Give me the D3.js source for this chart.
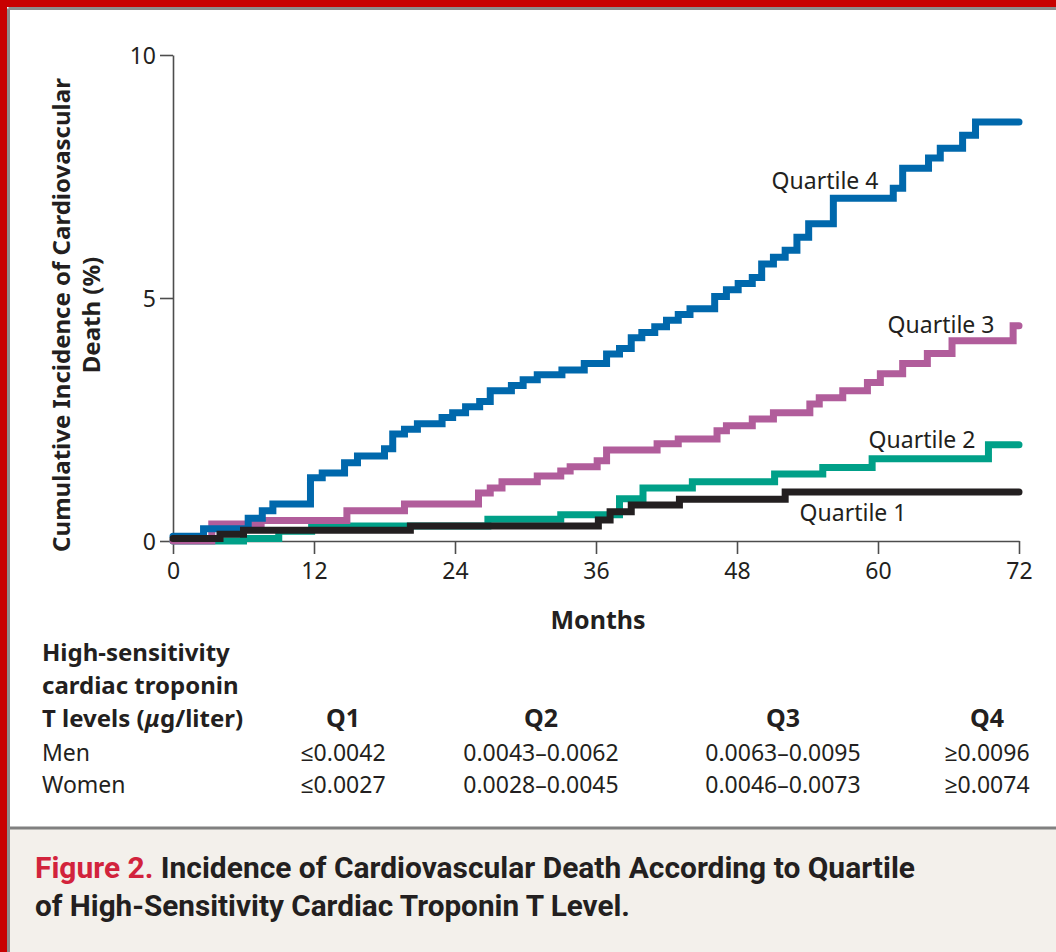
<!DOCTYPE html>
<html>
<head>
<meta charset="utf-8">
<script src="https://cdn.jsdelivr.net/npm/d3@7"></script>
<style>
body { margin: 0; background: #fff; }
svg text { font-family: "Noto Sans", "Open Sans", sans-serif; fill: #231f20; }
</style>
</head>
<body>
<svg id="chart"></svg>
<script>
// data: [month, cumulative incidence %]
var q1 = [[0,0.05],[4,0.14],[6,0.22],[20.2,0.31],[36.2,0.43],[37.2,0.6],[39,0.74],[43.1,0.86],[52.1,1.01],[72,1.01]];
var q2 = [[0,0],[6,0.05],[9,0.2],[11.8,0.31],[26.8,0.45],[33,0.54],[38,0.87],[40,1.09],[44.2,1.22],[51.2,1.38],[55.3,1.51],[59.5,1.69],[69.4,1.98],[72,1.98]];
var q3 = [[0,0],[3.3,0.35],[7.5,0.42],[14.8,0.62],[19.7,0.76],[26,0.99],[27,1.09],[28,1.22],[31,1.34],[33,1.44],[33.8,1.53],[36.1,1.65],[36.9,1.87],[41.2,2.0],[43,2.1],[46.3,2.27],[47.1,2.37],[49.3,2.51],[51.1,2.64],[54.2,2.82],[55,2.95],[57,3.09],[59.1,3.26],[60.2,3.44],[62.1,3.65],[64.2,3.86],[66.3,4.12],[71.5,4.43],[72,4.43]];
var q4 = [[0,0.1],[2.6,0.25],[6.4,0.47],[7.6,0.62],[8.5,0.76],[11.7,1.3],[12.7,1.4],[14.6,1.61],[15.7,1.75],[18,1.9],[18.7,2.2],[19.7,2.3],[20.8,2.41],[22.9,2.54],[23.8,2.64],[24.9,2.76],[26.1,2.87],[27,3.09],[28.8,3.2],[29.8,3.32],[31,3.42],[33.1,3.52],[35,3.65],[36.9,3.85],[38,3.96],[39,4.18],[39.9,4.29],[41,4.41],[42,4.54],[43,4.66],[44,4.78],[46.1,5.03],[47.1,5.17],[48.1,5.3],[49.3,5.42],[50.1,5.7],[51.1,5.84],[52.1,5.98],[53.1,6.25],[54.1,6.53],[56.2,7.05],[61.3,7.26],[62.1,7.67],[64.3,7.88],[65.3,8.08],[67.2,8.35],[68.3,8.62],[72,8.62]];

var seriesNames = ["Quartile 1","Quartile 2","Quartile 3","Quartile 4"];
var seriesColors = ["#231f20","#00a088","#b15d9b","#0068ac"];
var xTicks = [0,12,24,36,48,60,72];
var yTicks = [0,5,10];

var tableHead = ["Q1","Q2","Q3","Q4"];
var menRow = ["\u22640.0042","0.0043\u20130.0062","0.0063\u20130.0095","\u22650.0096"];
var womenRow = ["\u22640.0027","0.0028\u20130.0045","0.0046\u20130.0073","\u22650.0074"];

var W = 1056, H = 952;
var svg = d3.select("#chart").attr("width", W).attr("height", H);

svg.append("rect").attr("width", W).attr("height", H).attr("fill", "#fff");

// caption panel
svg.append("rect").attr("x", 0).attr("y", 829).attr("width", W).attr("height", H - 829).attr("fill", "#f3f0eb");
svg.append("line").attr("x1", 0).attr("x2", W).attr("y1", 828).attr("y2", 828)
  .attr("stroke", "#808080").attr("stroke-width", 3);

// frame: red band + grey inner rule
svg.append("rect").attr("x", 0).attr("y", 0).attr("width", W).attr("height", 7).attr("fill", "#c80000");
svg.append("rect").attr("x", 0).attr("y", 0).attr("width", 7).attr("height", H).attr("fill", "#c80000");
svg.append("line").attr("x1", 8.5).attr("x2", W).attr("y1", 8.5).attr("y2", 8.5).attr("stroke", "#8c8c8c").attr("stroke-width", 3);
svg.append("line").attr("x1", 8.5).attr("x2", 8.5).attr("y1", 8.5).attr("y2", H).attr("stroke", "#8c8c8c").attr("stroke-width", 3);

var x = d3.scaleLinear().domain([0, 72]).range([173, 1019]);
var y = d3.scaleLinear().domain([0, 10]).range([541, 55]);

var xAxis = d3.axisBottom(x).tickValues(xTicks).tickSize(13).tickSizeOuter(0).tickPadding(9);
var yAxis = d3.axisLeft(y).tickValues(yTicks).tickSize(13).tickSizeOuter(0).tickPadding(4);

var gx = svg.append("g").attr("transform", "translate(0," + y(0) + ")").call(xAxis);
var gy = svg.append("g").attr("transform", "translate(" + x(0) + ",0)").call(yAxis);

[gx, gy].forEach(function(g){
  g.select(".domain").attr("stroke", "#4d4d4d").attr("stroke-width", 1.6);
  g.selectAll(".tick line").attr("stroke", "#4d4d4d").attr("stroke-width", 1.6);
  g.selectAll(".tick text").style("font-family", "'Noto Sans', sans-serif").style("font-size", "23px").attr("fill", "#231f20");
});
gy.selectAll(".tick text").attr("dy", "0.35em");

// axis titles
svg.append("text").attr("x", 598).attr("y", 629).attr("text-anchor", "middle")
  .style("font-size", "25px").style("font-weight", "bold").text("Months");

var yl = svg.append("text").attr("transform", "translate(70,315) rotate(-90)").attr("text-anchor", "middle")
  .style("font-size", "24px").style("font-weight", "bold");
yl.append("tspan").attr("x", 0).attr("y", 0).text("Cumulative Incidence of Cardiovascular");
yl.append("tspan").attr("x", 0).attr("y", 30).text("Death (%)");

// step curves
var line = d3.line().x(function(d){ return x(d[0]); }).y(function(d){ return y(d[1]); }).curve(d3.curveStepAfter);
var drawOrder = [1, 2, 3, 0];
var allSeries = [q1, q2, q3, q4];
drawOrder.forEach(function(i){
  svg.append("path").datum(allSeries[i]).attr("d", line)
    .attr("fill", "none").attr("stroke", seriesColors[i]).attr("stroke-width", 7)
    .attr("stroke-linejoin", "miter").attr("stroke-linecap", "round");
});

// curve labels
var labelPos = [[853, 521], [922, 448], [941, 333], [825, 189]];
seriesNames.forEach(function(n, i){
  svg.append("text").attr("x", labelPos[i][0]).attr("y", labelPos[i][1]).attr("text-anchor", "middle")
    .style("font-size", "23px").text(n);
});

// table below the chart
var tl = svg.append("text").style("font-size", "24px").style("font-weight", "bold");
tl.append("tspan").attr("x", 42).attr("y", 661).text("High-sensitivity");
tl.append("tspan").attr("x", 42).attr("y", 694).text("cardiac troponin");
var t3 = tl.append("tspan").attr("x", 42).attr("y", 727);
t3.append("tspan").text("T levels (");
t3.append("tspan").style("font-style", "italic").text("\u03bc");
t3.append("tspan").text("g/liter)");

var colX = [343, 541, 783, 987];
tableHead.forEach(function(h, i){
  svg.append("text").attr("x", colX[i]).attr("y", 727).attr("text-anchor", "middle")
    .style("font-size", "25px").style("font-weight", "bold").text(h);
});
svg.append("text").attr("x", 42).attr("y", 761).style("font-size", "23px").text("Men");
svg.append("text").attr("x", 42).attr("y", 793).style("font-size", "23px").text("Women");
menRow.forEach(function(v, i){
  svg.append("text").attr("x", colX[i]).attr("y", 761).attr("text-anchor", "middle").style("font-size", "23px").text(v);
});
womenRow.forEach(function(v, i){
  svg.append("text").attr("x", colX[i]).attr("y", 793).attr("text-anchor", "middle").style("font-size", "23px").text(v);
});

// caption
var c1 = svg.append("text").attr("x", 35).attr("y", 878).attr("textLength", 880).attr("lengthAdjust", "spacingAndGlyphs")
  .style("font-family", "'Liberation Sans Narrow', 'Roboto', sans-serif").style("font-size", "29px").style("font-weight", "bold");
c1.append("tspan").attr("fill", "#d2233c").style("fill", "#d2233c").text("Figure 2. ");
c1.append("tspan").text("Incidence of Cardiovascular Death According to Quartile");
svg.append("text").attr("x", 35).attr("y", 916).attr("textLength", 595).attr("lengthAdjust", "spacingAndGlyphs")
  .style("font-family", "'Liberation Sans Narrow', 'Roboto', sans-serif").style("font-size", "29px").style("font-weight", "bold")
  .text("of High-Sensitivity Cardiac Troponin T Level.");
</script>
</body>
</html>
